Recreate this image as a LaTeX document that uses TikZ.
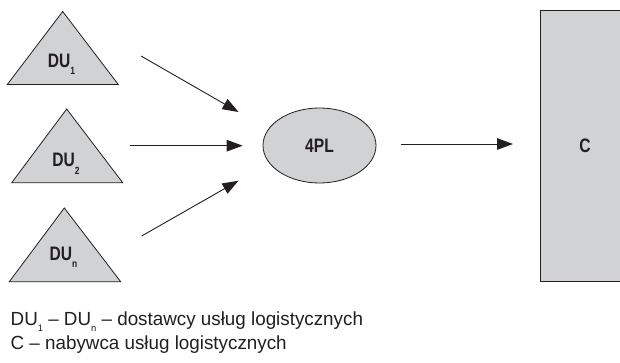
\documentclass[tikz,border=0pt]{standalone}
\usepackage{fontspec}
\setmainfont{Liberation Sans}[FakeStretch=0.99]
\newfontfamily\bcond{Liberation Sans}[FakeStretch=0.8]
\usetikzlibrary{arrows.meta,shapes.geometric}
\definecolor{boxgray}{RGB}{209,210,212}
\definecolor{ink}{RGB}{35,31,32}
\newcommand\subx[1]{\raisebox{-7.3pt}{\fontsize{10.5}{10}\selectfont #1}}
\newcommand\subl[1]{\raisebox{-6.8pt}{\fontsize{9.5}{10}\selectfont #1}}
\tikzset{
  shapebox/.style={draw=ink, fill=boxgray, line width=0.8pt},
  lbl/.style={font=\bcond\fontsize{19.5}{21}\selectfont\bfseries, text=ink, inner sep=0pt},
  legend/.style={font=\fontsize{19}{22}\selectfont, text=ink, inner sep=0pt, anchor=base west},
  flow/.style={draw=ink, line width=0.9pt, -{Triangle[length=16pt,width=11.5pt]}}
}
\begin{document}
\begin{tikzpicture}[x=1pt,y=-1pt]
\fill[white] (0,0) rectangle (620,363);
\useasboundingbox (0,0) rectangle (620,363);
% triangles
\filldraw[shapebox] (62.7,11.5) -- (118.3,84.5) -- (7.3,84.5) -- cycle;
\filldraw[shapebox] (66.7,109) -- (122.7,182.7) -- (11.7,182.7) -- cycle;
\filldraw[shapebox] (64.3,208) -- (120.7,281.7) -- (9.3,281.7) -- cycle;
\node[lbl, anchor=base] (t1) at (61.5,67.7) {DU\subx{1}};
\node[lbl, anchor=base] (t2) at (66,167) {DU\subx{2}};
\node[lbl, anchor=base] (t3) at (63.5,260) {DU\subx{n}};
% 4PL
\node[shapebox, lbl, ellipse, minimum width=113pt, minimum height=75pt, inner sep=0pt] (pl) at (319.5,145.5) {4PL};
% C
\node[shapebox, lbl, rectangle, minimum width=90pt, minimum height=271pt, inner sep=0pt] (c) at (585,146.2) {C};
% arrow end points
\coordinate (a1s) at (141,56);
\coordinate (a1e) at (238.5,112);
\coordinate (a2s) at (130,145.7);
\coordinate (a2e) at (242.7,145.7);
\coordinate (a3s) at (141.7,236);
\coordinate (a3e) at (238.5,180.7);
\coordinate (a4s) at (400.7,144);
\coordinate (a4e) at (513,144);
\draw[flow] (a1s) -- (a1e);
\draw[flow] (a2s) -- (a2e);
\draw[flow] (a3s) -- (a3e);
\draw[flow] (a4s) -- (a4e);
% legend
\node[legend] (l1) at (10.5,325) {DU\subl{1} – DU\subl{n} – dostawcy usług logistycznych};
\node[legend] (l2) at (10.5,349) {C – nabywca usług logistycznych};
\end{tikzpicture}
\end{document}
